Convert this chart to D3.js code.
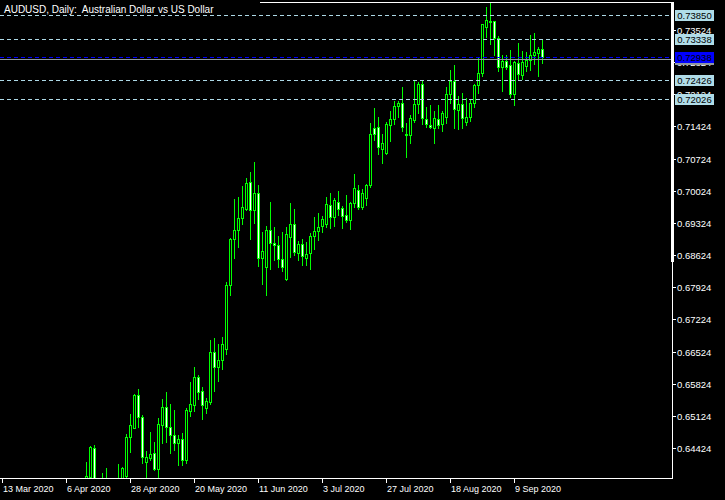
<!DOCTYPE html>
<html><head><meta charset="utf-8">
<script src="https://cdn.jsdelivr.net/npm/d3@7/dist/d3.min.js"></script>
<style>
html,body{margin:0;padding:0;background:#000;}
svg{display:block;}
text{font-family:"Liberation Sans",Arial,sans-serif;}
</style></head>
<body>
<svg id="c" width="725" height="500"></svg>
<script>
// ---- DATA ----
const title = "AUDUSD, Daily:  Australian Dollar vs US Dollar";
const dates = [
 "2020-03-13","2020-03-16","2020-03-17","2020-03-18","2020-03-19","2020-03-20","2020-03-23","2020-03-24","2020-03-25","2020-03-26","2020-03-27","2020-03-30","2020-03-31",
 "2020-04-01","2020-04-02","2020-04-03","2020-04-06","2020-04-07","2020-04-08","2020-04-09","2020-04-10","2020-04-13","2020-04-14","2020-04-15","2020-04-16","2020-04-17","2020-04-20","2020-04-21","2020-04-22","2020-04-23","2020-04-24","2020-04-27","2020-04-28","2020-04-29","2020-04-30",
 "2020-05-01","2020-05-04","2020-05-05","2020-05-06","2020-05-07","2020-05-08","2020-05-11","2020-05-12","2020-05-13","2020-05-14","2020-05-15","2020-05-18","2020-05-19","2020-05-20","2020-05-21","2020-05-22","2020-05-25","2020-05-26","2020-05-27","2020-05-28","2020-05-29",
 "2020-06-01","2020-06-02","2020-06-03","2020-06-04","2020-06-05","2020-06-08","2020-06-09","2020-06-10","2020-06-11","2020-06-12","2020-06-15","2020-06-16","2020-06-17","2020-06-18","2020-06-19","2020-06-22","2020-06-23","2020-06-24","2020-06-25","2020-06-26","2020-06-29","2020-06-30",
 "2020-07-01","2020-07-02","2020-07-03","2020-07-06","2020-07-07","2020-07-08","2020-07-09","2020-07-10","2020-07-13","2020-07-14","2020-07-15","2020-07-16","2020-07-17","2020-07-20","2020-07-21","2020-07-22","2020-07-23","2020-07-24","2020-07-27","2020-07-28","2020-07-29","2020-07-30","2020-07-31",
 "2020-08-03","2020-08-04","2020-08-05","2020-08-06","2020-08-07","2020-08-10","2020-08-11","2020-08-12","2020-08-13","2020-08-14","2020-08-17","2020-08-18","2020-08-19","2020-08-20","2020-08-21","2020-08-24","2020-08-25","2020-08-26","2020-08-27","2020-08-28","2020-08-31",
 "2020-09-01","2020-09-02","2020-09-03","2020-09-04","2020-09-07","2020-09-08","2020-09-09","2020-09-10","2020-09-11","2020-09-14","2020-09-15","2020-09-16","2020-09-17","2020-09-18"
];
const open = [.6265,.6190,.6120,.6010,.5760,.5770,.5790,.5780,.5900,.5860,.6060,.6140,.6150,
 .6120,.6070,.6090,.5990,.6130,.6170,.6210,.6320,.6340,.6380,.6442,.6335,.6355,.6365,.6360,.6310,.6355,.6360,.6381,.6466,.6487,.6557,
 .6509,.6413,.6421,.6431,.6396,.6492,.6531,.6489,.6470,.6453,.6461,.6416,.6524,.6537,.6597,.6566,.6530,.6543,.6651,.6619,.6635,
 .6659,.6797,.6897,.6918,.6942,.6963,.7021,.6961,.6997,.6855,.6837,.6918,.6888,.6884,.6853,.6810,.6901,.6930,.6866,.6886,.6855,.6866,
 .6903,.6914,.6926,.6929,.6971,.6946,.6979,.6964,.6949,.6939,.6975,.7005,.6968,.6986,.7014,.7138,.7141,.7094,.7084,.7145,.7158,.7187,.7194,
 .7127,.7123,.7156,.7191,.7235,.7158,.7146,.7138,.7158,.7148,.7162,.7213,.7241,.7178,.7191,.7151,.7162,.7193,.7232,.7258,.7358,
 .7373,.7371,.7336,.7271,.7284,.7276,.7212,.7280,.7255,.7274,.7287,.7299,.7303,.7312];
const high = [.6330,.6230,.6130,.6040,.5880,.5890,.5840,.5960,.5970,.6080,.6200,.6160,.6170,
 .6130,.6110,.6100,.6150,.6190,.6230,.6340,.6360,.6412,.6447,.6448,.6370,.6389,.6399,.6370,.6372,.6408,.6402,.6473,.6516,.6560,.6570,
 .6514,.6435,.6477,.6455,.6507,.6549,.6564,.6538,.6525,.6470,.6474,.6529,.6586,.6619,.6601,.6575,.6551,.6677,.6682,.6669,.6685,
 .6804,.6900,.6984,.6988,.7013,.7030,.7043,.7065,.7015,.6913,.6926,.6978,.6923,.6904,.6913,.6923,.6976,.6962,.6894,.6897,.6891,.6911,
 .6945,.6954,.6947,.6988,.6997,.6987,.7001,.6969,.6993,.6978,.7039,.7014,.7006,.7018,.7149,.7182,.7162,.7126,.7151,.7177,.7198,.7198,.7228,
 .7149,.7167,.7242,.7239,.7241,.7184,.7188,.7177,.7188,.7177,.7229,.7265,.7276,.7209,.7216,.7204,.7203,.7235,.7293,.7366,.7402,
 .7412,.7372,.7339,.7297,.7297,.7309,.7284,.7323,.7306,.7304,.7341,.7345,.7316,.7333];
const low = [.6180,.6030,.5960,.5700,.5510,.5660,.5650,.5740,.5820,.5850,.6050,.6090,.6060,
 .6040,.6000,.5980,.5990,.6120,.6100,.6190,.6300,.6320,.6360,.6300,.6253,.6320,.6340,.6255,.6290,.6330,.6330,.6378,.6434,.6486,.6489,
 .6410,.6372,.6416,.6394,.6380,.6454,.6455,.6432,.6438,.6405,.6405,.6410,.6511,.6524,.6550,.6506,.6519,.6538,.6566,.6589,.6614,
 .6647,.6775,.6856,.6881,.6930,.6961,.6898,.6933,.6839,.6799,.6775,.6833,.6852,.6837,.6828,.6808,.6858,.6862,.6852,.6840,.6841,.6833,
 .6876,.6895,.6913,.6923,.6921,.6926,.6950,.6921,.6934,.6920,.6968,.6962,.6962,.6972,.7010,.7113,.7082,.7063,.7082,.7111,.7148,.7162,.7133,
 .7075,.7106,.7152,.7172,.7148,.7141,.7140,.7107,.7140,.7132,.7149,.7193,.7138,.7136,.7138,.7145,.7154,.7185,.7216,.7252,.7338,
 .7322,.7298,.7264,.7220,.7268,.7207,.7190,.7246,.7246,.7264,.7265,.7278,.7252,.7281];
const close = [.6205,.6120,.6010,.5760,.5770,.5790,.5780,.5900,.5860,.6060,.6140,.6150,.6120,
 .6070,.6090,.5990,.6130,.6170,.6210,.6320,.6340,.6381,.6444,.6335,.6350,.6365,.6360,.6310,.6355,.6360,.6399,.6466,.6492,.6557,.6509,
 .6422,.6423,.6429,.6396,.6494,.6531,.6489,.6470,.6454,.6461,.6416,.6525,.6538,.6597,.6565,.6537,.6545,.6651,.6619,.6635,.6669,
 .6797,.6897,.6918,.6942,.6966,.7020,.6961,.6997,.6855,.6871,.6918,.6888,.6884,.6853,.6836,.6908,.6930,.6868,.6886,.6861,.6864,.6903,
 .6914,.6923,.6940,.6973,.6946,.6982,.6963,.6947,.6939,.6976,.7008,.6968,.6997,.7016,.7127,.7127,.7097,.7106,.7148,.7158,.7187,.7194,.7141,
 .7123,.7161,.7191,.7235,.7160,.7148,.7142,.7160,.7146,.7171,.7213,.7242,.7180,.7191,.7160,.7162,.7193,.7232,.7258,.7365,.7374,
 .7370,.7336,.7271,.7284,.7272,.7212,.7283,.7257,.7283,.7287,.7299,.7304,.7310,.7294];

const priceTicks = [0.64424,0.65124,0.65824,0.66524,0.67224,0.67924,0.68624,0.69324,0.70024,0.70724,0.71424,0.72124,0.72824,0.73524];
const timeTickDates = ["2020-03-13","2020-04-06","2020-04-28","2020-05-20","2020-06-11","2020-07-03","2020-07-27","2020-08-18","2020-09-09"];
const timeTickLabels = ["13 Mar 2020","6 Apr 2020","28 Apr 2020","20 May 2020","11 Jun 2020","3 Jul 2020","27 Jul 2020","18 Aug 2020","9 Sep 2020"];
const levelLines = [0.73850,0.73338,0.72426,0.72026];
const blueLevel = 0.72938;
const bidPrice = 0.72890;
const slots = 168; // visible bar slots incl. right shift

// ---- DRAW ----
const svg = d3.select("#c");
const W = 725, H = 500;
const plotR = 672, plotT = 2, plotB = 479;
svg.append("rect").attr("width",W).attr("height",H).attr("fill","#000");

const x = d3.scaleBand().domain(d3.range(slots)).range([0.7, 0.7 + 4*slots]);
const xc = i => Math.floor(x(i) + x.bandwidth()/2) + 0.5;
const y = d3.scaleLinear().domain([0.64424, 0.73850]).range([448, 15]);
const yr = p => Math.round(y(p));

svg.append("defs").append("clipPath").attr("id","clip")
  .append("rect").attr("x",0).attr("y",plotT+1).attr("width",plotR).attr("height",plotB-plotT-1.5);

const bars = dates.map((d,i)=>({d,i,o:open[i],h:high[i],l:low[i],c:close[i]}));
const gC = svg.append("g").attr("clip-path","url(#clip)");
const LIME = "#00ff00";
const cg = gC.selectAll("g.c").data(bars).join("g");
cg.append("line")
  .attr("x1",b=>xc(b.i)).attr("x2",b=>xc(b.i))
  .attr("y1",b=>yr(b.h)).attr("y2",b=>yr(b.l)+1)
  .attr("stroke",LIME).attr("stroke-width",1);
cg.append("rect")
  .attr("x",b=>xc(b.i)-1)
  .attr("y",b=>yr(Math.max(b.o,b.c))+0.5)
  .attr("width",2)
  .attr("height",b=>Math.max(yr(Math.min(b.o,b.c))-yr(Math.max(b.o,b.c)),0))
  .attr("fill",b=>b.c<b.o?"#fff":"#000")
  .attr("stroke",LIME).attr("stroke-width",1);

// level lines
const gL = svg.append("g");
levelLines.forEach(p=>{
  gL.append("line").attr("x1",0).attr("x2",plotR).attr("y1",yr(p)+0.5).attr("y2",yr(p)+0.5)
    .attr("stroke","#add8e6").attr("stroke-dasharray","4,3");
});
gL.append("line").attr("x1",0).attr("x2",plotR).attr("y1",yr(blueLevel)+0.5).attr("y2",yr(blueLevel)+0.5)
  .attr("stroke","#0000ff").attr("stroke-dasharray","4,3");
gL.append("line").attr("x1",0).attr("x2",plotR).attr("y1",yr(bidPrice)+0.5).attr("y2",yr(bidPrice)+0.5)
  .attr("stroke","#9098a0");

// frame
svg.append("line").attr("x1",260).attr("x2",plotR+1).attr("y1",plotT+0.5).attr("y2",plotT+0.5).attr("stroke","#fff");
svg.append("line").attr("x1",0).attr("x2",plotR+1).attr("y1",plotB-0.5).attr("y2",plotB-0.5).attr("stroke","#fff");
svg.append("line").attr("x1",plotR+0.5).attr("x2",plotR+0.5).attr("y1",plotT).attr("y2",plotB).attr("stroke","#fff");
svg.append("rect").attr("x",plotR-1).attr("y",plotT).attr("width",3).attr("height",260).attr("fill","#fff");

// price axis
const fmt = d3.format(".5f");
const gY = svg.append("g");
priceTicks.forEach(p=>{
  const yy = yr(p);
  gY.append("line").attr("x1",plotR).attr("x2",plotR+4).attr("y1",yy+0.5).attr("y2",yy+0.5).attr("stroke","#fff");
  gY.append("text").attr("x",plotR+5).attr("y",yy+4).attr("fill","#fff").attr("font-size","9.5px").text(fmt(p));
});

// price labels for bid (box only, its text is hidden) and levels
function tag(p, fill, col, showText){
  const yy = yr(p);
  svg.append("rect").attr("x",675).attr("y",yy-5).attr("width",39).attr("height",11).attr("fill",fill);
  if (showText) svg.append("text").attr("x",694.5).attr("y",yy+4).attr("text-anchor","middle")
    .attr("fill",col).attr("font-size","9.5px").text(fmt(p));
}
tag(bidPrice,"#9098a0","#000",false);
levelLines.forEach(p=>tag(p,"#b0dce8","#000",true));
tag(blueLevel,"#0000ff","#000",true);

// time axis
const gX = svg.append("g");
timeTickDates.forEach((d,k)=>{
  const i = dates.indexOf(d);
  const xx = xc(i);
  gX.append("line").attr("x1",xx).attr("x2",xx).attr("y1",plotB).attr("y2",plotB+4).attr("stroke","#fff");
  gX.append("text").attr("x",xx+0.5).attr("y",492).attr("fill","#fff").attr("font-size","9px").text(timeTickLabels[k]);
});

// title
svg.append("text").attr("x",4).attr("y",13).attr("fill","#fff").attr("font-size","10px")
  .style("white-space","pre").text(title);
</script>
</body></html>
